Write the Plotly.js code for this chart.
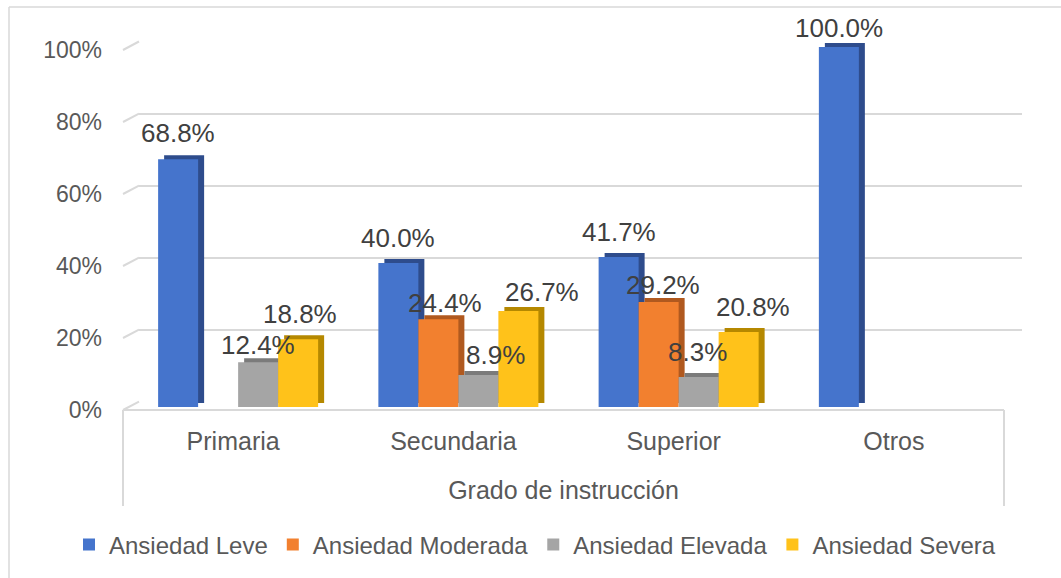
<!DOCTYPE html>
<html>
<head>
<meta charset="utf-8">
<script src="https://cdn.plot.ly/plotly-3.0.1.min.js"></script>
<style>html,body{margin:0;padding:0;background:#fff;}#chart{width:1061px;height:578px;}</style>
</head>
<body>
<div id="chart"></div>
<script>
// ---- data ----
const categories = ["Primaria", "Secundaria", "Superior", "Otros"];
const seriesNames = ["Ansiedad Leve", "Ansiedad Moderada", "Ansiedad Elevada", "Ansiedad Severa"];
const leve = [68.8, 40.0, 41.7, 100.0];
const moderada = [null, 24.4, 29.2, null];
const elevada = [12.4, 8.9, 8.3, null];
const severa = [18.8, 26.7, 20.8, null];
const yTicks = [0, 20, 40, 60, 80, 100];
const yTickLabels = ["0%", "20%", "40%", "60%", "80%", "100%"];
const xTitle = "Grado de instrucción";

// ---- styling ----
const frontColors = ["#4574CC", "#F2802F", "#A5A5A5", "#FFC21A"];
const sideColors = ["#2E4C8C", "#B0591F", "#7B7B7B", "#B58800"];
// per-label nudges (px) for data labels, mimicking the original placement
const labelNudgeX = [[0, 0, 0, 0], [0, 7, 4, 0], [0, 17, -1, 0], [2, 24, 14, 0]];
const labelNudgeY = [[26, 25, 25, 19], [0, 16, 17, 0], [17, 20, 25, 0], [25, 19, 25, 0]];

const W = 1061, H = 578;
const fx = p => p / W;
const fy = p => 1 - p / H;
const FONT = "Liberation Sans, Arial, sans-serif";
const GRID = "#D9D9D9";
const TXT = "#595959";
const BARGAP = 0.2735;

const values = [leve, moderada, elevada, severa];

const traces = [];
// invisible anchor traces so that the wall and label axes are drawn
traces.push({type: "scatter", x: categories, y: leve, xaxis: "x", yaxis: "y", mode: "markers",
  marker: {opacity: 0}, showlegend: false, hoverinfo: "skip"});
// side/top faces (shifted subplot)
values.forEach((v, i) => {
  traces.push({type: "bar", x: categories, y: v, xaxis: "x2", yaxis: "y2",
    marker: {color: sideColors[i], line: {width: 0}}, showlegend: false, hoverinfo: "skip"});
});
// front faces
values.forEach((v, i) => {
  traces.push({type: "bar", name: seriesNames[i], x: categories, y: v, xaxis: "x3", yaxis: "y3",
    marker: {color: frontColors[i], line: {width: 0}}, hoverinfo: "skip"});
});
traces.push({type: "scatter", x: [0, 1, 2, 3], y: leve, xaxis: "x4", yaxis: "y4", mode: "markers",
  marker: {opacity: 0}, showlegend: false, hoverinfo: "skip"});

const wallX = [fx(139), fx(1022)], wallY = [fy(401.7), fy(41.5)];
const frontX = [fx(123), fx(1004)], frontY = [fy(410), fy(50)];
const yAt = (dom, v) => dom[0] + (dom[1] - dom[0]) * v / 100;

const shapes = [];
const line = (x0, y0, x1, y1, w) => ({type: "line", xref: "paper", yref: "paper", x0, y0, x1, y1,
  layer: "below", line: {color: GRID, width: w || 2}});
// left wall diagonals
yTicks.forEach(t => shapes.push(line(frontX[0], yAt(frontY, t), wallX[0], yAt(wallY, t))));
// floor front edge and label box
shapes.push(line(frontX[0], frontY[0], frontX[1], frontY[0]));
shapes.push(line(frontX[0], frontY[0], frontX[0], fy(506)));
shapes.push(line(frontX[1], frontY[0], frontX[1], fy(506)));
// outer chart border (top and left visible)
shapes.push(line(fx(9), fy(7), 1.01, fy(7), 1.5));
shapes.push(line(fx(9), fy(7), fx(9), -0.01, 1.5));

// data labels
const slot = (1 - BARGAP) / values.length;
const annotations = [];
values.forEach((v, si) => {
  v.forEach((val, ci) => {
    if (val === null) return;
    annotations.push({xref: "x3", yref: "y3", x: ci + (si - (values.length - 1) / 2) * slot, y: val,
      text: val.toFixed(1) + "%", showarrow: false, xanchor: "center", yanchor: "middle",
      xshift: labelNudgeX[si][ci], yshift: labelNudgeY[si][ci],
      font: {family: FONT, size: 26, color: "#404040"}});
  });
});

const hidden = {showgrid: false, zeroline: false, showline: false, showticklabels: false, ticks: "", fixedrange: true};

const layout = {
  width: W, height: H,
  margin: {l: 0, r: 0, t: 0, b: 0, pad: 0},
  paper_bgcolor: "#ffffff", plot_bgcolor: "rgba(0,0,0,0)",
  barmode: "group", bargap: BARGAP, bargroupgap: 0,
  font: {family: FONT, color: TXT},
  showlegend: true,
  legend: {orientation: "h", x: fx(535), xanchor: "center", y: fy(545), yanchor: "middle",
    font: {family: FONT, size: 24, color: TXT}, bgcolor: "rgba(0,0,0,0)"},
  xaxis: Object.assign({}, hidden, {domain: wallX, anchor: "y", type: "category", categoryarray: categories}),
  yaxis: Object.assign({}, hidden, {domain: wallY, anchor: "x", range: [0, 100], tickvals: yTicks,
    showgrid: true, gridcolor: GRID, gridwidth: 2}),
  xaxis2: Object.assign({}, hidden, {domain: [fx(134), fx(1015)], anchor: "y2", type: "category", categoryarray: categories}),
  yaxis2: Object.assign({}, hidden, {domain: [fy(403), fy(43)], anchor: "x2", range: [0, 100]}),
  xaxis3: Object.assign({}, hidden, {domain: [fx(128), fx(1009)], anchor: "y3", type: "category", categoryarray: categories}),
  yaxis3: Object.assign({}, hidden, {domain: [fy(407), fy(47)], anchor: "x3", range: [0, 100]}),
  xaxis4: {domain: frontX, anchor: "y4", range: [-0.5, 3.5], tickvals: [0, 1, 2, 3], ticktext: categories,
    showgrid: false, zeroline: false, showline: false, ticks: "", ticklabelstandoff: 14, fixedrange: true,
    tickfont: {family: FONT, size: 25, color: TXT},
    title: {text: xTitle, font: {family: FONT, size: 25, color: TXT}, standoff: 27}},
  yaxis4: {domain: frontY, anchor: "x4", range: [0, 100], tickvals: yTicks, ticktext: yTickLabels,
    showgrid: false, zeroline: false, showline: false, ticks: "", ticklabelstandoff: 20, fixedrange: true,
    tickfont: {family: FONT, size: 23, color: TXT}},
  shapes: shapes,
  annotations: annotations
};

Plotly.newPlot("chart", traces, layout, {displayModeBar: false, staticPlot: true});
</script>
</body>
</html>
